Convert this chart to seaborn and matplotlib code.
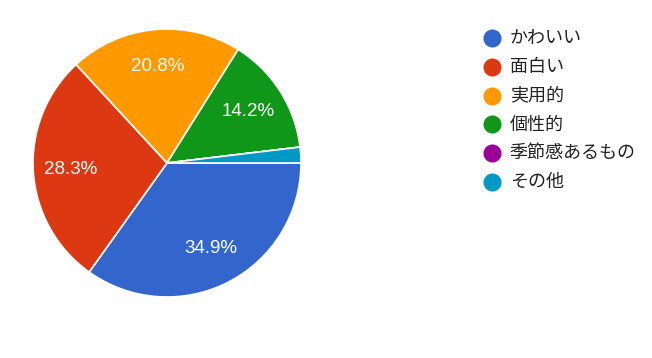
import matplotlib
matplotlib.use("Agg")
import matplotlib.pyplot as plt
from matplotlib.lines import Line2D
import seaborn as sns

categories = ["かわいい", "面白い", "実用的", "個性的", "季節感あるもの", "その他"]
values = [34.9, 28.3, 20.8, 14.2, 0.0, 1.9]
colors = ["#3366CC", "#DC3912", "#FF9900", "#109618", "#990099", "#0099C6"]

sns.set_theme(style="white")
plt.rcParams['font.family'] = ['Noto Sans CJK JP', 'DejaVu Sans']

W, H = 652, 358
fig = plt.figure(figsize=(W / 100, H / 100), dpi=100)
fig.patch.set_facecolor("white")

cx, cy, r = 167, 163, 134
ax = fig.add_axes([(cx - r) / W, (H - cy - r) / H, 2 * r / W, 2 * r / H])
ax.set_aspect("equal")

wedges, texts = ax.pie(
    values, colors=colors, startangle=0, counterclock=False,
    wedgeprops=dict(edgecolor="white", linewidth=1.2),
    labels=[f"{v:.1f}%" if v >= 5 else "" for v in values],
    labeldistance=0.72,
    textprops=dict(color="white", fontsize=13.5, family=['Liberation Sans', 'DejaVu Sans'],
                   ha="center", va="center"),
)
for t in texts:
    t.set_ha("center")
    t.set_va("center")
ax.set_xlim(-1.0, 1.0)
ax.set_ylim(-1.0, 1.0)
ax.axis("off")

# legend
lx, tx, y0, dy = 492, 510, 38, 28.8
for i in range(len(categories)):
    y = y0 + i * dy
    fig.add_artist(Line2D([lx / W], [1 - y / H], marker="o", markersize=13,
                          color=colors[i], markeredgewidth=0, linestyle="none",
                          transform=fig.transFigure))
    fig.text(tx / W, 1 - y / H, categories[i], fontsize=13, color="#222222",
             ha="left", va="center")

fig.savefig("out.png", dpi=100, facecolor="white")
